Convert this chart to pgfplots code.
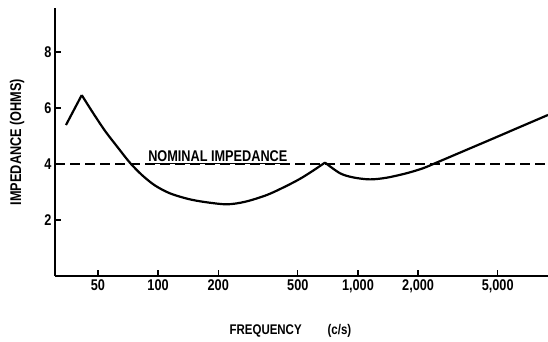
\documentclass[border=0pt]{standalone}
\usepackage{fontspec}
\setmainfont[FakeStretch=0.82]{Liberation Sans}
\usepackage{pgfplots}
\pgfplotsset{compat=1.18}
\newcommand{\chartfont}{\fontsize{15.5}{18}\selectfont\bfseries}
\begin{document}
\begin{tikzpicture}
\begin{axis}[
  at={(0,0)}, anchor=south west,
  scale only axis, width=493pt, height=268pt,
  xmode=log, xmin=30.5, xmax=8930, ymin=0, ymax=9.57,
  axis x line*=bottom, axis y line*=left,
  axis line style={-, line width=1.6pt},
  xtick={50,100,200,500,1000,2000,5000},
  xticklabels={50,100,200,500,{1,000},{2,000},{5,000}},
  minor xtick={},
  ytick={2,4,6,8},
  tick align=inside,
  major tick length=6pt,
  tick style={line width=1.3pt, black},
  ticklabel style={font=\chartfont},
  /pgf/number format/assume math mode=true,
  xlabel={FREQUENCY\hspace{26pt}(c/s)},
  x label style={at={(axis description cs:0.347,-0.205)}, anchor=west, font=\fontsize{14}{17}\selectfont\bfseries},
  ylabel={IMPEDANCE (OHMS)},
  y label style={at={(axis description cs:-0.077,0.5)}, anchor=center, font=\chartfont},
]
% nominal impedance
\addplot[black, line width=1.6pt, dash pattern=on 10pt off 5pt] coordinates {(30.5,4) (8930,4)};
% impedance curve, segment 1
\addplot[black, line width=2.2pt] coordinates {(34.6,5.39) (41.5,6.46)};
% segment 2
\addplot[black, line width=2.2pt, smooth, tension=0.5] coordinates {
 (41.5,6.46) (47.3,5.82) (54.3,5.18) (62.4,4.62) (72.4,4.04) (83.2,3.60)
 (96.6,3.23) (114.8,2.95) (141.7,2.75) (171.8,2.64) (220.5,2.56)
 (272.3,2.65) (349.5,2.89) (431.5,3.19) (512.9,3.47) (595.7,3.76) (683.9,4.05)};
% segment 3
\addplot[black, line width=2.2pt, smooth, tension=0.5] coordinates {
 (683.9,4.05) (812.8,3.67) (947,3.52) (1148,3.45) (1392,3.51) (1752,3.67)
 (2121,3.85) (2475,4.05) (3428,4.48) (4750,4.91) (6457,5.32) (8930,5.75)};
\node[anchor=south west, inner sep=0pt, font=\chartfont] at (axis cs:89.1,4) {\underline{NOMINAL IMPEDANCE}};
\end{axis}
\pgfresetboundingbox
\useasboundingbox (-55pt,-66pt) rectangle (493pt,276pt);
\end{tikzpicture}
\end{document}
